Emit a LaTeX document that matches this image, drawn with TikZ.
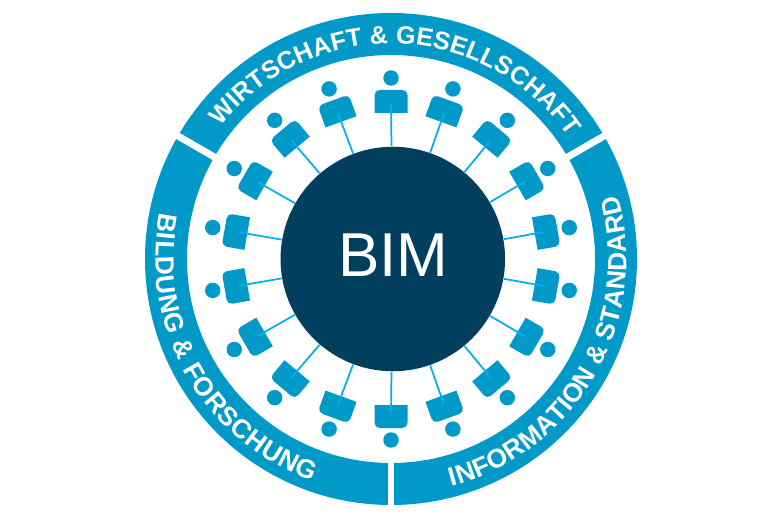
\documentclass[tikz,border=0pt]{standalone}
\usepackage{fontspec}
\setmainfont{Liberation Sans}
\usetikzlibrary{decorations.text}

\definecolor{ringblue}{RGB}{0,153,200}
\definecolor{spokeblue}{RGB}{0,174,239}
\definecolor{hubblue}{RGB}{2,63,95}

\tikzset{every picture/.style={line width=0.75pt}}
\tikzset{
  ringlabel/.style 2 args={decorate,decoration={text along path,text align={fit to path},
    text={|\fontsize{#1}{23}\selectfont\bfseries\color{white}|#2}}},
  ringgap/.style={draw=white,line width=5.2pt},
  head/.style={circle,fill=ringblue,inner sep=0pt,minimum size=11.6pt},
  spoke/.style={draw=spokeblue,line width=1.3pt}
}

\begin{document}
\begin{tikzpicture}[x=0.75pt,y=0.75pt]
\path[use as bounding box] (-391,-261) rectangle (389,259);

%Shape: Ring
\fill[ringblue,even odd rule] (0,0) circle (246) (0,0) circle (204);
%Straight Lines: gaps in the ring
\foreach \a in {30,150,270}{
  \coordinate (gapin\a) at (\a:198);
  \coordinate (gapout\a) at (\a:252);
  \draw[ringgap] (gapin\a) -- (gapout\a);
}

% Text Node
\path[ringlabel={18.9}{WIRTSCHAFT {\&} GESELLSCHAFT}] (142:215.5) arc (142:34.5:215.5);
\path[ringlabel={19.8}{BILDUNG {\&} FORSCHUNG}] (168.6:235.5) arc (168.6:250.6:235.5);
\path[ringlabel={19.8}{INFORMATION {\&} STANDARD}] (285:235.5) arc (285:375.7:235.5);

%Shape: Circle
\node[circle,fill=hubblue,inner sep=0pt,minimum size=168.4pt] (hub) at (1.8,0) {};

%Persons round the hub
\foreach \a in {10,30,...,350}{
  \fill[ringblue,rotate=\a-90,rounded corners=3.8pt] (-16.5,146) -- (-16.5,169) -- (16.5,169)
    [sharp corners] -- (16.5,146) -- cycle;
  \node[head] (head\a) at (\a:181) {};
  \coordinate (body\a) at (\a:155);
  \draw[spoke] (hub) -- (body\a);
}

% Text Node
\node[text=white,font=\fontsize{46.5}{50}\selectfont] (bim) at (2.5,3.5) {BIM};

\end{tikzpicture}
\end{document}
